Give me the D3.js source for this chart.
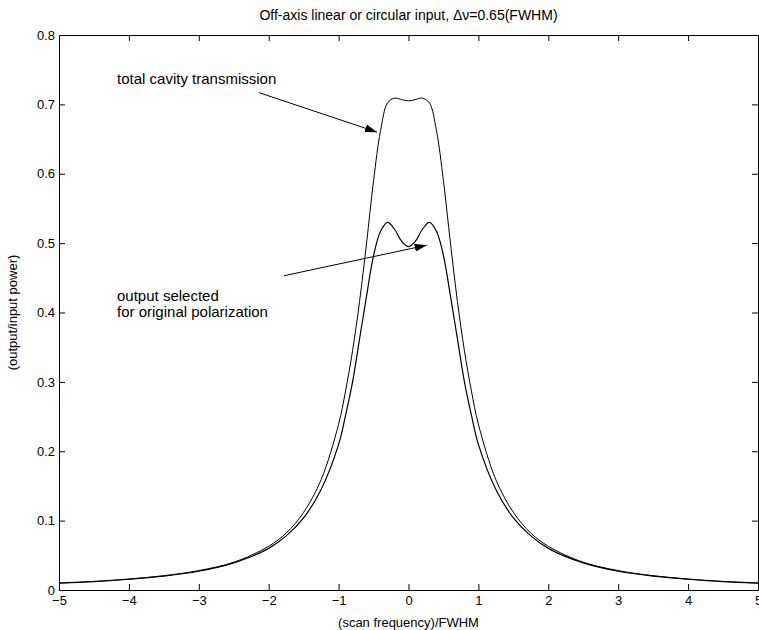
<!DOCTYPE html>
<html>
<head>
<meta charset="utf-8">
<script src="https://cdn.jsdelivr.net/npm/d3@7"></script>
<style>
  body { margin: 0; background: #fff; }
  svg { display: block; font-family: "Liberation Sans", Arial, sans-serif; }
  .axis text { font-size: 13px; fill: #000; }
  .axis path, .axis line { stroke: #000; }
</style>
</head>
<body>
<div id="chart"></div>
<script>
// scan frequency / FWHM
const xs = [-5, -4.5, -4, -3.5, -3, -2.5, -2, -1.75, -1.5, -1.25, -1, -0.9, -0.8, -0.7, -0.6, -0.5, -0.4, -0.3, -0.2, -0.1,
  0, 0.1, 0.2, 0.3, 0.4, 0.5, 0.6, 0.7, 0.8, 0.9, 1, 1.25, 1.5, 1.75, 2, 2.5, 3, 3.5, 4, 4.5, 5];

// total cavity transmission
const totalT = [0.010, 0.0124, 0.0158, 0.0206, 0.028, 0.040, 0.063, 0.082, 0.112, 0.159, 0.239, 0.287, 0.345, 0.416, 0.500, 0.590, 0.662, 0.702, 0.709, 0.707,
  0.705, 0.707, 0.709, 0.702, 0.662, 0.590, 0.500, 0.416, 0.345, 0.287, 0.239, 0.159, 0.112, 0.082, 0.063, 0.040, 0.028, 0.0206, 0.0158, 0.0124, 0.010];

// output selected for original polarization
const selected = [0.010, 0.012, 0.0155, 0.020, 0.027, 0.039, 0.060, 0.078, 0.104, 0.145, 0.210, 0.252, 0.300, 0.362, 0.424, 0.482, 0.517, 0.530, 0.520, 0.503,
  0.495, 0.503, 0.520, 0.530, 0.517, 0.482, 0.424, 0.362, 0.300, 0.252, 0.210, 0.145, 0.104, 0.078, 0.060, 0.039, 0.027, 0.020, 0.0155, 0.012, 0.010];

const xTicks = [-5, -4, -3, -2, -1, 0, 1, 2, 3, 4, 5];
const yTicks = [0, 0.1, 0.2, 0.3, 0.4, 0.5, 0.6, 0.7, 0.8];

const margin = { top: 35, right: 1, bottom: 40, left: 59 };
const W = 759, H = 630;
const width = W - margin.left - margin.right;
const height = H - margin.top - margin.bottom;

const svg = d3.select("#chart").append("svg")
  .attr("width", W)
  .attr("height", H);

// arrow head
svg.append("defs").append("marker")
  .attr("id", "head")
  .attr("viewBox", "0 0 12 8")
  .attr("refX", 12)
  .attr("refY", 4)
  .attr("markerWidth", 12)
  .attr("markerHeight", 8)
  .attr("markerUnits", "userSpaceOnUse")
  .attr("orient", "auto")
  .append("path")
  .attr("d", "M0,0L12,4L0,8Z")
  .attr("fill", "#000");

const g = svg.append("g")
  .attr("transform", `translate(${margin.left},${margin.top})`);

const x = d3.scaleLinear().domain([-5, 5]).range([0, width]);
const y = d3.scaleLinear().domain([0, 0.8]).range([height, 0]);

// axes, MATLAB style box with inward ticks
g.append("g").attr("class", "axis")
  .attr("transform", `translate(0,${height})`)
  .call(d3.axisBottom(x).tickValues(xTicks).tickFormat(d3.format("d")).tickSizeInner(-6).tickSizeOuter(0).tickPadding(6));

g.append("g").attr("class", "axis")
  .call(d3.axisTop(x).tickValues(xTicks).tickFormat("").tickSizeInner(-6).tickSizeOuter(0));

g.append("g").attr("class", "axis")
  .call(d3.axisLeft(y).tickValues(yTicks).tickFormat(d => d === 0 ? "0" : d3.format(".1f")(d)).tickSizeInner(-6).tickSizeOuter(0).tickPadding(4));

g.append("g").attr("class", "axis")
  .attr("transform", `translate(${width},0)`)
  .call(d3.axisRight(y).tickValues(yTicks).tickFormat("").tickSizeInner(-6).tickSizeOuter(0));

// curves
const line = d3.line()
  .x(d => x(d[0]))
  .y(d => y(d[1]))
  .curve(d3.curveCatmullRom.alpha(0.5));

g.append("path")
  .datum(xs.map((v, i) => [v, totalT[i]]))
  .attr("fill", "none")
  .attr("stroke", "#000")
  .attr("stroke-width", 1)
  .attr("d", line);

g.append("path")
  .datum(xs.map((v, i) => [v, selected[i]]))
  .attr("fill", "none")
  .attr("stroke", "#000")
  .attr("stroke-width", 1.2)
  .attr("d", line);

// annotations
g.append("text")
  .attr("x", x(-4.17))
  .attr("y", y(0.730))
  .attr("font-size", 15)
  .text("total cavity transmission");

g.append("line")
  .attr("x1", x(-2.14)).attr("y1", y(0.717))
  .attr("x2", x(-0.45)).attr("y2", y(0.66))
  .attr("stroke", "#000")
  .attr("marker-end", "url(#head)");

g.append("text")
  .attr("x", x(-4.17))
  .attr("y", y(0.417))
  .attr("font-size", 15)
  .text("output selected");

g.append("text")
  .attr("x", x(-4.17))
  .attr("y", y(0.394))
  .attr("font-size", 15)
  .text("for original polarization");

g.append("line")
  .attr("x1", x(-1.78)).attr("y1", y(0.453))
  .attr("x2", x(0.26)).attr("y2", y(0.497))
  .attr("stroke", "#000")
  .attr("marker-end", "url(#head)");

// title and axis labels
svg.append("text")
  .attr("x", margin.left + width / 2)
  .attr("y", 20)
  .attr("text-anchor", "middle")
  .attr("font-size", 14)
  .text("Off-axis linear or circular input, \u0394\u03bd=0.65(FWHM)");

svg.append("text")
  .attr("x", margin.left + width / 2)
  .attr("y", 627)
  .attr("text-anchor", "middle")
  .attr("font-size", 13)
  .text("(scan frequency)/FWHM");

svg.append("text")
  .attr("transform", `translate(17,${margin.top + height / 2}) rotate(-90)`)
  .attr("text-anchor", "middle")
  .attr("font-size", 13)
  .text("(output/input power)");
</script>
</body>
</html>
